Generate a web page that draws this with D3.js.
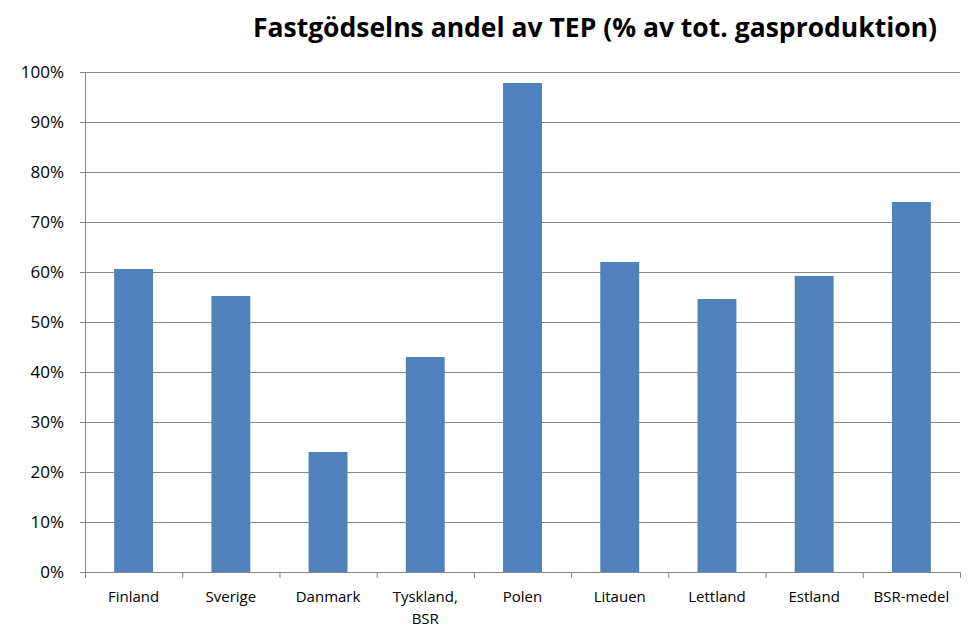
<!DOCTYPE html>
<html><head><meta charset="utf-8">
<script src="https://cdn.jsdelivr.net/npm/d3@7"></script>
<style>body{margin:0;background:#fff}text{font-family:"Open Sans",Lato,sans-serif}</style>
</head><body><svg id="chart" width="977" height="639"></svg>
<script>
var countries = ["Finland","Sverige","Danmark","Tyskland, BSR","Polen","Litauen","Lettland","Estland","BSR-medel"];
var shares = [60.6,55.2,24,43,97.8,62,54.6,59.2,74];
var yTicks = [0,10,20,30,40,50,60,70,80,90,100];

var svg = d3.select("#chart");
var pLeft = 85, pRight = 960, pTop = 72, pBottom = 572;
var x = d3.scaleBand().domain(countries).range([pLeft,pRight]).paddingInner(0.6).paddingOuter(0.3);
var y = d3.scaleLinear().domain([0,100]).range([pBottom,pTop]);

// grid
svg.selectAll(".grid").data(yTicks).enter().append("line")
  .attr("x1",pLeft).attr("x2",pRight)
  .attr("y1",d=>y(d)+0.5).attr("y2",d=>y(d)+0.5)
  .attr("stroke","#868686").attr("stroke-width",1);

svg.selectAll(".bar").data(shares).enter().append("rect")
  .attr("x",(d,i)=>x(countries[i])).attr("width",x.bandwidth())
  .attr("y",d=>y(d)).attr("height",d=>pBottom-y(d))
  .attr("fill","#4f81bd");

// axes
svg.append("line").attr("x1",pLeft+0.5).attr("x2",pLeft+0.5).attr("y1",pTop).attr("y2",pBottom).attr("stroke","#868686");
svg.selectAll(".yl").data(yTicks).enter().append("text")
  .attr("x",64).attr("y",d=>y(d)+6).attr("text-anchor","end")
  .attr("font-size",17).text(d=>d+"%");
svg.selectAll(".yt").data(yTicks).enter().append("line")
  .attr("x1",pLeft-5).attr("x2",pLeft).attr("y1",d=>y(d)+0.5).attr("y2",d=>y(d)+0.5).attr("stroke","#868686");
svg.selectAll(".xt").data(d3.range(countries.length+1)).enter().append("line")
  .attr("x1",d=>pLeft+d*(pRight-pLeft)/countries.length+0.5).attr("x2",d=>pLeft+d*(pRight-pLeft)/countries.length+0.5)
  .attr("y1",pBottom).attr("y2",pBottom+6).attr("stroke","#868686");
svg.selectAll(".xl").data(countries).enter().append("text")
  .attr("x",d=>x(d)+x.bandwidth()/2).attr("y",602).attr("text-anchor","middle").attr("font-size",15)
  .each(function(d){
    var parts = d.split(" ");
    var t = d3.select(this);
    parts.forEach((p,i)=>t.append("tspan").attr("x",x(d)+x.bandwidth()/2).attr("dy",i?22:0).text(p));
  });

svg.append("text").attr("x",595).attr("y",37).attr("text-anchor","middle")
  .attr("font-size",26.5).attr("font-weight","bold")
  .text("Fastgödselns andel av TEP (% av tot. gasproduktion)");
</script></body></html>
